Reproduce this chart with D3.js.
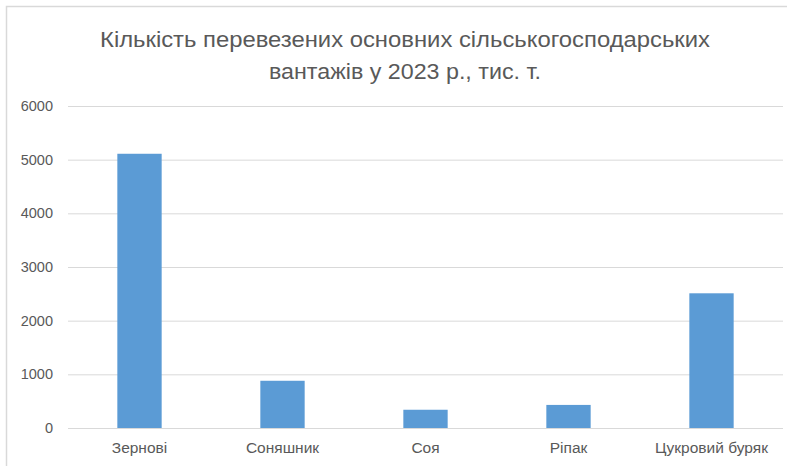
<!DOCTYPE html>
<html>
<head>
<meta charset="utf-8">
<script src="https://cdn.jsdelivr.net/npm/d3@7/dist/d3.min.js"></script>
<style>
  html, body { margin: 0; padding: 0; background: #fff; }
  svg { display: block; }
  text { font-family: "Liberation Sans", Arial, sans-serif; fill: #595959; }
</style>
</head>
<body>
<svg id="chart" width="787" height="466"></svg>
<script>
// Cargo categories and volumes, thousand tonnes (2023)
const categories = ["Зернові", "Соняшник", "Соя", "Ріпак", "Цукровий буряк"];
const volumes = [5110, 880, 340, 430, 2510];
const yTicks = [0, 1000, 2000, 3000, 4000, 5000, 6000];
const titleLines = ["Кількість перевезених основних сільськогосподарських", "вантажів у 2023 р., тис. т."];

const svg = d3.select("#chart");
const W = 787, H = 466;
const margin = { top: 106, right: 4, bottom: 38, left: 68 };
const labelFont = '"Liberation Sans", Arial, sans-serif';

// chart frame
svg.append("rect")
  .attr("x", 6.5).attr("y", 6.5)
  .attr("width", W + 10).attr("height", H + 10)
  .attr("fill", "#fff")
  .attr("stroke", "#D9D9D9").attr("stroke-width", 1.5);

const x = d3.scaleBand()
  .domain(categories)
  .range([margin.left, W - margin.right])
  .paddingInner(0.69)
  .paddingOuter(0.345);

const y = d3.scaleLinear()
  .domain([0, 6000])
  .range([H - margin.bottom, margin.top]);

// value axis with gridlines
const yAxis = d3.axisLeft(y)
  .tickValues(yTicks)
  .tickFormat(d3.format("d"))
  .tickSize(-(W - margin.right - margin.left))
  .tickPadding(15);
const gy = svg.append("g")
  .attr("transform", `translate(${margin.left},0)`)
  .call(yAxis);
gy.select(".domain").remove();
gy.selectAll(".tick line").attr("stroke", "#D9D9D9").attr("stroke-width", 1);
gy.selectAll(".tick text").attr("font-size", 14.5).attr("fill", "#595959")
  .style("font-family", labelFont);

// bars
svg.append("g").selectAll("rect")
  .data(categories)
  .join("rect")
  .attr("x", d => x(d))
  .attr("width", x.bandwidth())
  .attr("y", (d, i) => y(volumes[i]))
  .attr("height", (d, i) => y(0) - y(volumes[i]))
  .attr("fill", "#5B9BD5");

// category axis
const xAxis = d3.axisBottom(x).tickSize(0).tickPadding(14);
const gx = svg.append("g")
  .attr("transform", `translate(0,${y(0)})`)
  .call(xAxis);
gx.select(".domain").remove();
gx.selectAll(".tick text").attr("font-size", 15.5).attr("fill", "#595959")
  .style("font-family", labelFont);

// title
svg.append("g").selectAll("text")
  .data(titleLines)
  .join("text")
  .attr("x", 405)
  .attr("y", (d, i) => 47 + i * 32)
  .attr("text-anchor", "middle")
  .attr("font-size", 22)
  .attr("fill", "#595959")
  .attr("textLength", (d, i) => i === 0 ? 610 : 272)
  .attr("lengthAdjust", "spacingAndGlyphs")
  .text(d => d);
</script>
</body>
</html>
